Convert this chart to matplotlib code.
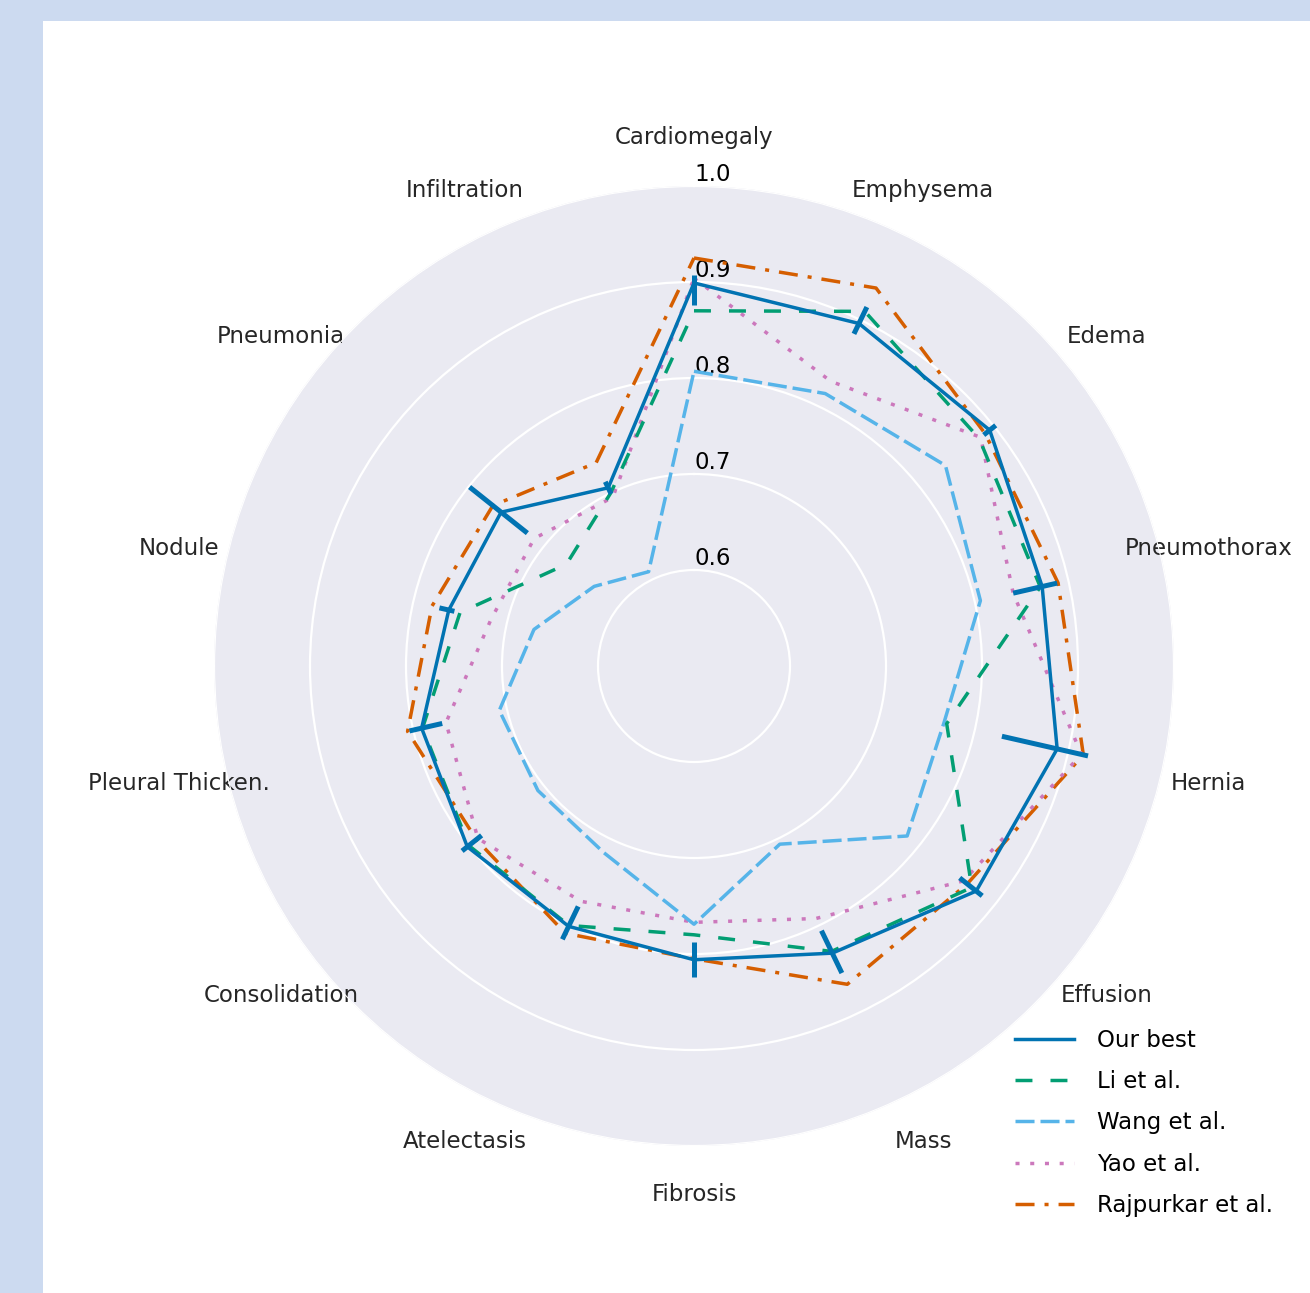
import numpy as np
import matplotlib
matplotlib.use("Agg")
import matplotlib.pyplot as plt
from matplotlib.patches import Rectangle

plt.rcParams['font.family'] = ['DejaVu Sans']
plt.rcParams['lines.scale_dashes'] = False

labels = ["Cardiomegaly", "Emphysema", "Edema", "Pneumothorax", "Hernia",
          "Effusion", "Mass", "Fibrosis", "Atelectasis", "Consolidation",
          "Pleural Thicken.", "Nodule", "Pneumonia", "Infiltration"]

# our model, with lower / upper ends of the error bars
ours = [0.899, 0.896, 0.894, 0.872, 0.888, 0.876, 0.832, 0.806, 0.801, 0.802, 0.791, 0.762, 0.757, 0.706]
ours_lo = [0.876, 0.884, 0.886, 0.841, 0.829, 0.854, 0.806, 0.787, 0.778, 0.783, 0.769, 0.756, 0.722, 0.699]
ours_hi = [0.907, 0.915, 0.902, 0.888, 0.921, 0.884, 0.855, 0.824, 0.816, 0.809, 0.804, 0.772, 0.799, 0.713]

li = [0.87, 0.91, 0.88, 0.87, 0.77, 0.87, 0.83, 0.78, 0.80, 0.80, 0.79, 0.75, 0.67, 0.70]
wang = [0.807, 0.815, 0.835, 0.806, 0.767, 0.784, 0.706, 0.769, 0.716, 0.708, 0.708, 0.671, 0.633, 0.609]
yao = [0.904, 0.829, 0.882, 0.841, 0.914, 0.859, 0.792, 0.767, 0.772, 0.788, 0.765, 0.717, 0.713, 0.695]
rajpurkar = [0.925, 0.937, 0.888, 0.889, 0.916, 0.864, 0.868, 0.805, 0.809, 0.790, 0.806, 0.780, 0.768, 0.735]

r_ticks = [0.6, 0.7, 0.8, 0.9, 1.0]

theta = np.linspace(0, 2 * np.pi, len(labels), endpoint=False)


def closed(v):
    return np.append(v, v[0])


W, H = 1310, 1293
fig = plt.figure(figsize=(W / 100, H / 100), dpi=100, facecolor='#ccdaf0')
fig.patches.append(Rectangle((43 / W, 0), 1, 1 - 21 / H, transform=fig.transFigure,
                             facecolor='white', edgecolor='none', zorder=-10))

ax = fig.add_axes([214 / W, 147 / H, 960 / W, 960 / H], projection='polar')
ax.set_theta_offset(np.pi / 2)
ax.set_theta_direction(-1)
ax.set_facecolor('#eaeaf2')
ax.set_ylim(0.5, 1.0)
ax.set_yticks(r_ticks)
ax.set_yticklabels([f"{t:.1f}" for t in r_ticks], fontsize=16.5, color='black')
ax.set_rlabel_position(0)
ax.set_xticks(theta)
ax.set_xticklabels(labels, fontsize=16.5, color='#262626')
ax.tick_params(axis='x', pad=27.6, length=0)
ax.tick_params(axis='y', length=0)
ax.xaxis.grid(False)
ax.yaxis.grid(True, color='white', linewidth=1.6)
ax.spines['polar'].set_visible(False)

tc = closed(theta)
lw = 2.5
ax.plot(tc, closed(rajpurkar), color='#d55e00', lw=lw, dashes=(13.7, 7.2, 2.9, 7.2), label='Rajpurkar et al.', zorder=3)
ax.plot(tc, closed(yao), color='#cc78bc', lw=lw, dashes=(2.9, 7.7), label='Yao et al.', zorder=3)
ax.plot(tc, closed(wang), color='#56b4e9', lw=lw, dashes=(13.7, 4.3), label='Wang et al.', zorder=3)
ax.plot(tc, closed(li), color='#029e73', lw=lw, dashes=(12.2, 13.0), label='Li et al.', zorder=3)
ax.plot(tc, closed(ours), color='#0173b2', lw=lw, label='Our best', zorder=4)
yerr = [np.array(ours) - np.array(ours_lo), np.array(ours_hi) - np.array(ours)]
ax.errorbar(theta, ours, yerr=yerr, fmt='none', ecolor='#0173b2', elinewidth=3.6, capsize=0, zorder=5)

handles, names = ax.get_legend_handles_labels()
ax.legend(handles[::-1], names[::-1], loc='center left', bbox_to_anchor=(994 / W, 1 - 1123 / H),
          bbox_transform=fig.transFigure, frameon=False, fontsize=16.5,
          handlelength=2.6, handletextpad=1.0, labelspacing=0.8, borderpad=0.4)

fig.savefig("out.png", dpi=100, facecolor=fig.get_facecolor())
